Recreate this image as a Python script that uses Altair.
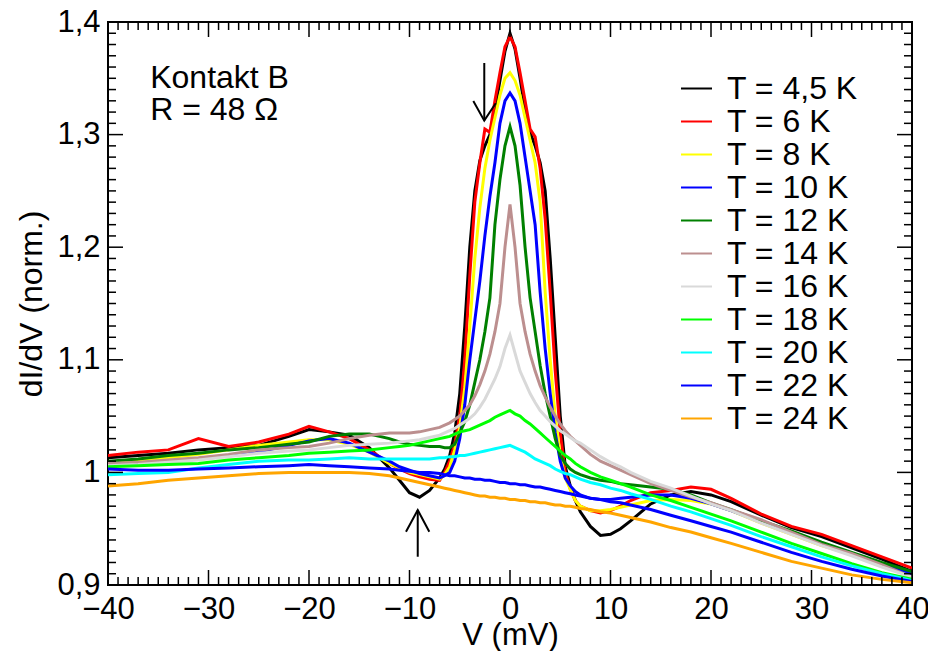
import altair as alt
import pandas as pd

# ---------------- data ----------------
V = [-40, -37, -34, -31, -28, -25, -22, -20, -18, -16, -14,
     -12, -11, -10, -9, -8, -7,
     -6.5, -6, -5.5, -5, -4.5, -4, -3.5, -3, -2.5, -2, -1.5, -1, -0.5,
     0,
     0.5, 1, 1.5, 2, 2.5, 3, 3.5, 4, 4.5, 5, 5.5, 6, 6.5,
     7, 8, 9, 10, 11, 12,
     14, 16, 18, 20, 22, 25, 28, 31, 34, 37, 40]

T4_5 = [1.013, 1.015, 1.017, 1.02, 1.022, 1.024, 1.032, 1.038, 1.036, 1.033, 1.022,
        1.004, 0.993, 0.982, 0.978, 0.984, 0.995,
        1.003, 1.015, 1.035, 1.07, 1.13, 1.20, 1.25, 1.277, 1.29, 1.30, 1.322, 1.348, 1.374,
        1.39,
        1.376, 1.35, 1.322, 1.302, 1.29, 1.275, 1.25, 1.19, 1.12, 1.05, 1.005, 0.988, 0.975,
        0.965, 0.952, 0.944, 0.945, 0.95, 0.957,
        0.972, 0.98, 0.983, 0.98, 0.974, 0.962, 0.951, 0.943, 0.933, 0.923, 0.912]
T6 = [1.015, 1.018, 1.02, 1.03, 1.023, 1.027, 1.034, 1.041, 1.036, 1.03, 1.02,
      1.008, 1.003, 0.999, 0.996, 0.994, 0.993,
      1.0, 1.01, 1.025, 1.05, 1.1, 1.175, 1.24, 1.275, 1.305, 1.302, 1.33, 1.355, 1.378,
      1.387,
      1.378, 1.355, 1.33, 1.305, 1.298, 1.27, 1.225, 1.16, 1.09, 1.035, 1.0, 0.985, 0.975,
      0.97, 0.966, 0.964, 0.966, 0.97, 0.975,
      0.982, 0.984, 0.987, 0.985, 0.977, 0.963, 0.952, 0.945, 0.935, 0.925, 0.915]
T8 = [1.008, 1.01, 1.013, 1.016, 1.02, 1.024, 1.027, 1.029, 1.029, 1.025, 1.018,
      1.008, 1.004, 1.0, 0.998, 0.996, 0.994,
      0.998, 1.005, 1.02, 1.04, 1.075, 1.13, 1.19, 1.235, 1.27, 1.295, 1.315, 1.335, 1.35,
      1.355,
      1.348, 1.335, 1.315, 1.295, 1.275, 1.24, 1.16, 1.1, 1.05, 1.015, 0.995, 0.985, 0.975,
      0.97, 0.966, 0.966, 0.967, 0.969, 0.971,
      0.975, 0.976, 0.975, 0.972, 0.966, 0.955, 0.945, 0.935, 0.927, 0.918, 0.91]
T10 = [1.006, 1.008, 1.01, 1.012, 1.015, 1.018, 1.024, 1.028, 1.03, 1.026, 1.018,
       1.01, 1.005, 1.002, 0.999, 0.997, 0.995,
       0.997, 1.0, 1.01, 1.03, 1.06, 1.1, 1.135, 1.17, 1.21, 1.245, 1.275, 1.31, 1.33,
       1.337,
       1.33, 1.31, 1.28, 1.25, 1.22, 1.16, 1.11, 1.07, 1.035, 1.01, 0.995, 0.988, 0.983,
       0.98, 0.977, 0.976, 0.976, 0.977, 0.978,
       0.98, 0.98, 0.977, 0.972, 0.966, 0.956, 0.946, 0.936, 0.927, 0.918, 0.91]
T12 = [1.01, 1.012, 1.015, 1.017, 1.02, 1.022, 1.025, 1.027, 1.032, 1.034, 1.034,
       1.03, 1.027, 1.025, 1.024, 1.023, 1.023,
       1.022, 1.022, 1.025, 1.035, 1.045, 1.06, 1.08, 1.10, 1.125, 1.155, 1.22, 1.26, 1.29,
       1.307,
       1.29, 1.255, 1.2, 1.155, 1.125, 1.095, 1.07, 1.05, 1.03, 1.015, 1.008, 1.003, 1.0,
       0.998, 0.995, 0.993, 0.992, 0.99, 0.989,
       0.987, 0.985, 0.98, 0.973, 0.967, 0.957, 0.948, 0.938, 0.929, 0.92, 0.912]
T14 = [1.008, 1.009, 1.011, 1.013, 1.016, 1.02, 1.022, 1.023, 1.026, 1.03, 1.033,
       1.035, 1.035, 1.035, 1.036, 1.038, 1.04,
       1.042, 1.044, 1.047, 1.05, 1.055, 1.06, 1.068, 1.078, 1.09, 1.105, 1.125, 1.15, 1.2,
       1.238,
       1.2, 1.15, 1.125, 1.105, 1.09, 1.077, 1.067, 1.058, 1.05, 1.043, 1.037, 1.032, 1.028,
       1.024, 1.016, 1.01, 1.006, 1.002, 0.998,
       0.99, 0.984, 0.978, 0.973, 0.967, 0.958, 0.947, 0.936, 0.928, 0.918, 0.907]
T16 = [1.006, 1.007, 1.009, 1.011, 1.014, 1.017, 1.019, 1.02, 1.022, 1.024, 1.025,
       1.026, 1.027, 1.028, 1.029, 1.031, 1.033,
       1.035, 1.037, 1.039, 1.042, 1.045, 1.048, 1.052, 1.058, 1.065, 1.074, 1.083, 1.094, 1.11,
       1.122,
       1.106, 1.09, 1.08, 1.07, 1.062, 1.055, 1.05, 1.045, 1.041, 1.037, 1.034, 1.031, 1.028,
       1.026, 1.02, 1.014, 1.009, 1.005, 1.0,
       0.992, 0.986, 0.979, 0.972, 0.966, 0.955, 0.945, 0.935, 0.926, 0.916, 0.907]
T18 = [1.005, 1.006, 1.007, 1.008, 1.011, 1.013, 1.015, 1.017, 1.018, 1.019, 1.02,
       1.022, 1.023, 1.024, 1.026, 1.028, 1.03,
       1.031, 1.032, 1.034, 1.036, 1.037, 1.038, 1.04, 1.042, 1.044, 1.046, 1.049, 1.051, 1.053,
       1.055,
       1.052, 1.05, 1.046, 1.043, 1.039, 1.035, 1.031, 1.027, 1.023, 1.019, 1.015, 1.012, 1.008,
       1.005, 1.0, 0.996, 0.993, 0.99, 0.987,
       0.98, 0.975, 0.969, 0.963, 0.957, 0.947, 0.937, 0.928, 0.919, 0.911, 0.905]
T20 = [0.998, 0.999, 1.0, 1.004, 1.007, 1.01, 1.011, 1.011, 1.012, 1.013, 1.012,
       1.012, 1.012, 1.012, 1.012, 1.012, 1.013,
       1.013, 1.014, 1.014, 1.015, 1.015, 1.016, 1.017, 1.018, 1.019, 1.02, 1.021, 1.022, 1.023,
       1.024,
       1.022, 1.02, 1.018, 1.015, 1.012, 1.01, 1.008, 1.006, 1.003, 1.001, 0.999, 0.998, 0.996,
       0.994, 0.991, 0.989, 0.986, 0.984, 0.981,
       0.976, 0.97, 0.965, 0.959, 0.953, 0.943, 0.934, 0.925, 0.917, 0.91, 0.904]
T22 = [1.003, 1.002, 1.002, 1.003, 1.004, 1.005, 1.006, 1.007, 1.006, 1.005, 1.004,
       1.003, 1.002, 1.001, 1.0, 1.0, 0.999,
       0.998, 0.997, 0.997, 0.996, 0.995, 0.995, 0.994, 0.994, 0.993, 0.993, 0.992, 0.991, 0.991,
       0.99,
       0.99, 0.989, 0.989, 0.988, 0.987, 0.987, 0.986, 0.985, 0.984, 0.983, 0.982, 0.981, 0.98,
       0.979, 0.977, 0.976, 0.974, 0.973, 0.971,
       0.967, 0.962, 0.957, 0.952, 0.947, 0.938, 0.929, 0.921, 0.914, 0.908, 0.903]
T24 = [0.988, 0.99, 0.993, 0.995, 0.997, 0.999, 1.0, 1.0, 1.0, 1.0, 0.999,
       0.997, 0.995, 0.993, 0.991, 0.989, 0.987,
       0.986, 0.985, 0.984, 0.983, 0.982, 0.981, 0.98, 0.979, 0.979, 0.978, 0.978, 0.977, 0.977,
       0.976,
       0.976, 0.975, 0.975, 0.974, 0.974, 0.973, 0.973, 0.972, 0.971, 0.971, 0.97, 0.97, 0.969,
       0.968, 0.967, 0.965, 0.964, 0.962, 0.96,
       0.956, 0.951, 0.947, 0.942, 0.937, 0.929, 0.921, 0.915, 0.909, 0.905, 0.902]

labels = ["T = 4,5 K", "T = 6 K", "T = 8 K", "T = 10 K", "T = 12 K", "T = 14 K",
          "T = 16 K", "T = 18 K", "T = 20 K", "T = 22 K", "T = 24 K"]
series = [T4_5, T6, T8, T10, T12, T14, T16, T18, T20, T22, T24]
colors = ["#000000", "#ff0000", "#ffff00", "#0000ff", "#008000", "#bc8f8f",
          "#d9d9d9", "#00ff00", "#00ffff", "#0000ff", "#ffa500"]

x_major = [-40, -30, -20, -10, 0, 10, 20, 30, 40]
x_minor = [v for v in range(-40, 41) if v % 10 != 0]
y_major = [0.9, 1.0, 1.1, 1.2, 1.3, 1.4]
y_minor = [round(0.9 + k * 0.01, 2) for k in range(51) if k % 10 != 0]

# annotations (data coordinates)
note_V = [-35.8, -35.8]
note_y = [1.3417, 1.3126]
note_text = ["Kontakt B", "R = 48 Ω"]

arrow_seg = [0, 0, 1, 1, 1, 2, 2, 3, 3, 3]
arrow_ord = [0, 1, 0, 1, 2, 0, 1, 0, 1, 2]
arrow_V = [-2.56, -2.56, -3.65, -2.56, -1.42, -9.18, -9.18, -10.35, -9.18, -8.03]
arrow_y = [1.3636, 1.3124, 1.3298, 1.3124, 1.3278, 0.9251, 0.9666, 0.9473, 0.9666, 0.9473]

# ---------------- build ----------------
W, H = 804, 563
FONT = "Liberation Sans"
FS_TICK = 31
FS = 32

rows = []
for k, (lab, ys) in enumerate(zip(labels, series)):
    for v, y in zip(V, ys):
        rows.append({"V": v, "dIdV": y, "T": lab, "k": k})
df = pd.DataFrame(rows)

xscale = alt.Scale(domain=[-40, 40], nice=False, zero=False)
yscale = alt.Scale(domain=[0.9, 1.4], nice=False, zero=False)

lines = alt.Chart(df).mark_line(strokeWidth=3, clip=True).encode(
    x=alt.X("V:Q", scale=xscale,
            axis=alt.Axis(title="V (mV)", values=x_major, domain=False, ticks=False, grid=False,
                          labelFontSize=FS_TICK, labelFont=FONT, labelColor="black",
                          labelFlush=False, labelOverlap=False, labelPadding=9,
                          titleFont=FONT, titleFontSize=31, titleFontWeight="normal",
                          titleColor="black", titleBaseline="alphabetic", titleY=59)),
    y=alt.Y("dIdV:Q", scale=yscale,
            axis=alt.Axis(title="dI/dV (norm.)", values=y_major, domain=False, ticks=False,
                          grid=False, labelFontSize=FS_TICK, labelFont=FONT, labelColor="black",
                          labelFlush=False, labelOverlap=False, labelPadding=8,
                          labelExpr="datum.value == 1 ? '1' : replace(format(datum.value, '.1f'), '.', ',')",
                          titleFont=FONT, titleFontSize=FS, titleFontWeight="normal",
                          titleColor="black", titleBaseline="alphabetic", titleX=-67,
                          titleY=H / 2)),
    color=alt.Color("T:N", scale=alt.Scale(domain=labels, range=colors),
                    legend=alt.Legend(title=None, orient="none", legendX=572, legendY=50,
                                      symbolType="stroke", symbolSize=961,
                                      symbolStrokeWidth=2, labelFontSize=FS, labelFont=FONT,
                                      labelColor="black", labelOffset=14, rowPadding=0)),
    detail="k:Q",
)

def vrule(vals, y0, y1):
    return alt.Chart(pd.DataFrame({"V": vals})).mark_rule(color="black", strokeWidth=1.5).encode(
        x=alt.X("V:Q", scale=xscale), y=alt.value(y0), y2=alt.value(y1))

def hrule(vals, x0, x1):
    return alt.Chart(pd.DataFrame({"dIdV": vals})).mark_rule(color="black", strokeWidth=1.5).encode(
        y=alt.Y("dIdV:Q", scale=yscale), x=alt.value(x0), x2=alt.value(x1))

ticks = [
    vrule(x_major, H, H - 15), vrule(x_minor, H, H - 8),
    vrule(x_major, 0, 15), vrule(x_minor, 0, 8),
    hrule(y_major, 0, 15), hrule(y_minor, 0, 8),
    hrule(y_major, W, W - 15), hrule(y_minor, W, W - 8),
]

arrows = alt.Chart(pd.DataFrame({"V": arrow_V, "dIdV": arrow_y, "seg": arrow_seg, "o": arrow_ord})).mark_line(
    color="black", strokeWidth=2).encode(
    x=alt.X("V:Q", scale=xscale), y=alt.Y("dIdV:Q", scale=yscale),
    detail="seg:N", order="o:Q")

notes = alt.Chart(pd.DataFrame({"V": note_V, "dIdV": note_y, "txt": note_text})).mark_text(
    align="left", baseline="alphabetic", fontSize=FS, font=FONT, color="black").encode(
    x=alt.X("V:Q", scale=xscale), y=alt.Y("dIdV:Q", scale=yscale), text="txt:N")

chart = alt.layer(lines, *ticks, arrows, notes).properties(
    width=W, height=H,
    autosize=alt.AutoSizeParams(type="none"),
    padding={"left": 100, "top": 14, "right": 16, "bottom": 66},
).configure_view(stroke="black", strokeWidth=2)

chart.save("out.html", embed_options={"renderer": "svg", "actions": False})
